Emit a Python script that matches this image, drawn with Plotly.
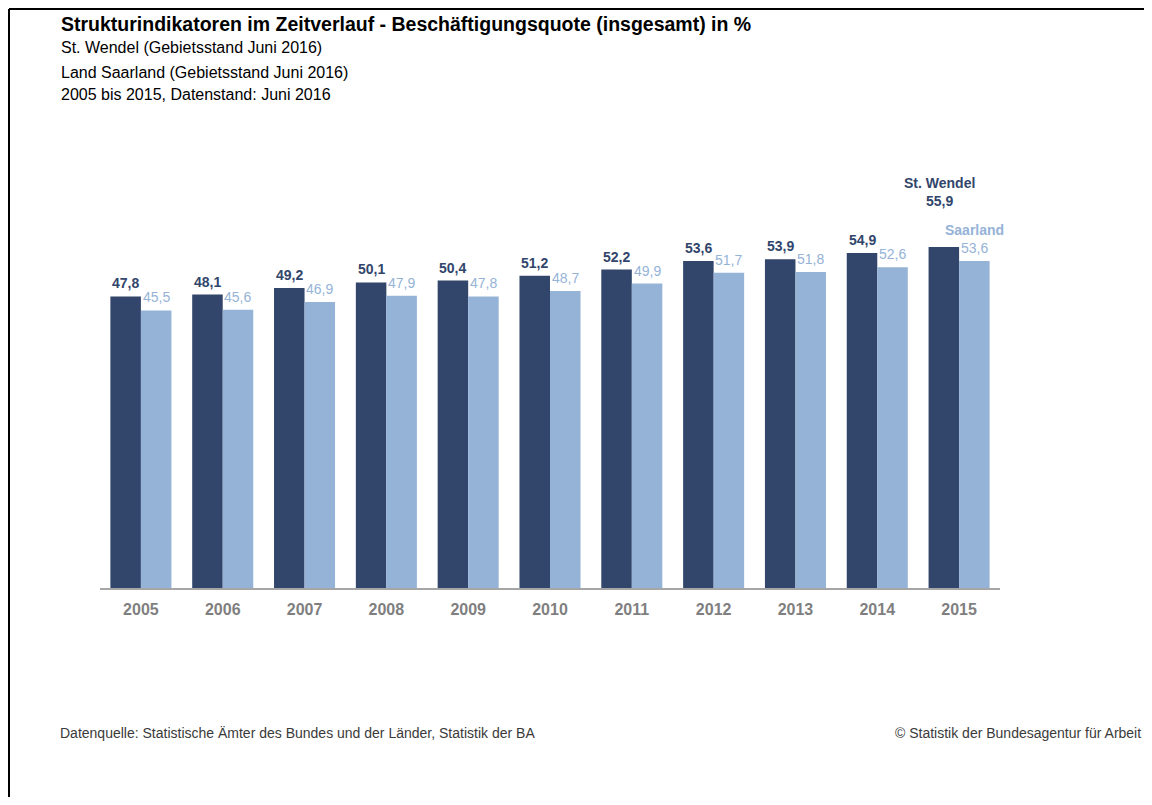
import plotly.graph_objects as go

# Data
years = ['2005', '2006', '2007', '2008', '2009', '2010', '2011', '2012', '2013', '2014', '2015']
st_wendel = [47.8, 48.1, 49.2, 50.1, 50.4, 51.2, 52.2, 53.6, 53.9, 54.9, 55.9]
saarland = [45.5, 45.6, 46.9, 47.9, 47.8, 48.7, 49.9, 51.7, 51.8, 52.6, 53.6]

DARK = '#32456B'
LIGHT = '#95B3D7'
FONT = 'Liberation Sans, Arial, sans-serif'

# page body adds an 8px margin, so the figure is laid out in page pixels minus OFF
OFF = 8
W, H = 1144, 789
ML, MR, MT, MB = 92, 152, 153, 209
PW, PH = W - ML - MR, H - MT - MB


def px_x(p):
    """page pixel x -> paper x"""
    return (p - OFF - ML) / PW


def px_y(p):
    """page pixel y (from top) -> paper y"""
    return (H - MB - (p - OFF)) / PH


def fmt(v):
    return f'{v:.1f}'.replace('.', ',')


fig = go.Figure()

fig.add_trace(go.Bar(
    x=years, y=st_wendel, name='St. Wendel',
    marker=dict(color=DARK, line=dict(width=0)),
))
fig.add_trace(go.Bar(
    x=years, y=saarland, name='Saarland',
    marker=dict(color=LIGHT, line=dict(width=0)),
))

# bar half offset in pixels (group width = (1 - bargap) * category width)
cat_w = PW / len(years)
half = cat_w * (1 - 0.254) / 4

annotations = []
for i, yr in enumerate(years):
    last = i == len(years) - 1
    # category axis: annotation x is the category index
    annotations.append(dict(
        x=i, y=st_wendel[i], xref='x', yref='y',
        text=('<b>St. Wendel</b><br>' if last else '') + '<b>' + fmt(st_wendel[i]) + '</b>',
        showarrow=False, xshift=-half - (4 if last else 0), yshift=36 if last else 3,
        yanchor='bottom', xanchor='center',
        font=dict(family=FONT, size=14, color=DARK),
    ))
    annotations.append(dict(
        x=i, y=saarland[i], xref='x', yref='y',
        text=('<b>Saarland</b><br>' if last else '') + fmt(saarland[i]),
        showarrow=False, xshift=half, yshift=3,
        yanchor='bottom', xanchor='center',
        font=dict(family=FONT, size=14, color=LIGHT),
    ))

# header
annotations.append(dict(
    x=px_x(59), y=px_y(24), xref='paper', yref='paper',
    text='<b>Strukturindikatoren im Zeitverlauf - Beschäftigungsquote (insgesamt) in %</b>',
    showarrow=False, xanchor='left', yanchor='middle',
    font=dict(family=FONT, size=19.5, color='#000000'),
))
for txt, yy in [('St. Wendel (Gebietsstand Juni 2016)', 48),
                 ('Land Saarland (Gebietsstand Juni 2016)', 72),
                 ('2005 bis 2015, Datenstand: Juni 2016', 94)]:
    annotations.append(dict(
        x=px_x(59), y=px_y(yy), xref='paper', yref='paper',
        text=txt, showarrow=False, xanchor='left', yanchor='middle',
        font=dict(family=FONT, size=16, color='#000000'),
    ))

# footer
annotations.append(dict(
    x=px_x(58), y=px_y(733), xref='paper', yref='paper',
    text='Datenquelle: Statistische Ämter des Bundes und der Länder, Statistik der BA',
    showarrow=False, xanchor='left', yanchor='middle',
    font=dict(family=FONT, size=14, color='#3A3A3A'),
))
annotations.append(dict(
    x=px_x(1143), y=px_y(733), xref='paper', yref='paper',
    text='© Statistik der Bundesagentur für Arbeit',
    showarrow=False, xanchor='right', yanchor='middle',
    font=dict(family=FONT, size=14, color='#3A3A3A'),
))

# outer frame (left and top edges visible)
shapes = [
    dict(type='line', xref='paper', yref='paper',
         x0=px_x(9), x1=px_x(1160), y0=px_y(9), y1=px_y(9),
         line=dict(color='#000000', width=2)),
    dict(type='line', xref='paper', yref='paper',
         x0=px_x(9), x1=px_x(9), y0=px_y(9), y1=px_y(810),
         line=dict(color='#000000', width=2)),
]

fig.update_layout(
    width=W, height=H,
    margin=dict(l=ML, r=MR, t=MT, b=MB),
    barmode='group', bargap=0.254, bargroupgap=0,
    showlegend=False,
    plot_bgcolor='white', paper_bgcolor='white',
    annotations=annotations,
    shapes=shapes,
    xaxis=dict(
        type='category', range=[-0.5, len(years) - 0.5],
        showline=True, linecolor='#A6A6A6', linewidth=2,
        ticks='', showgrid=False, zeroline=False,
        tickfont=dict(family=FONT, size=16, color='#7F7F7F', weight='bold'),
        ticklabelstandoff=6,
    ),
    yaxis=dict(
        range=[0, 70], visible=False, showgrid=False, zeroline=False,
    ),
)

fig.write_html('out.html')
